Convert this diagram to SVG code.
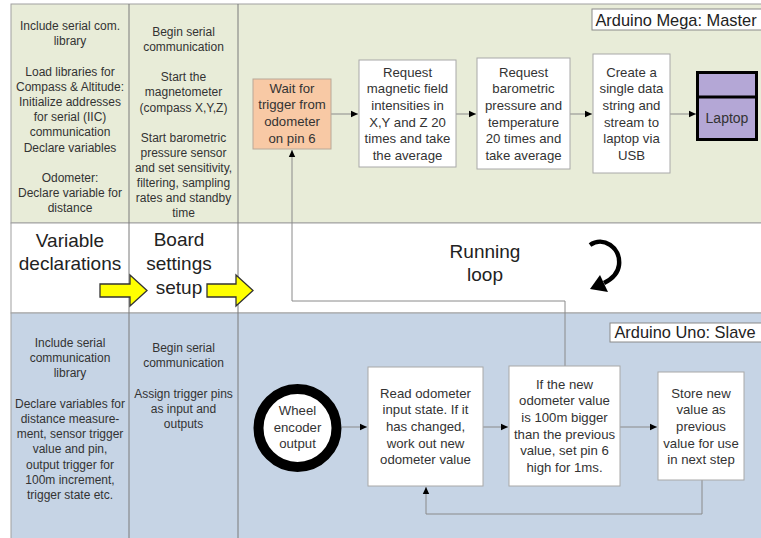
<svg xmlns="http://www.w3.org/2000/svg" width="761" height="538" viewBox="0 0 761 538">
<defs>
<style>
text{font-family:"Liberation Sans",Arial,sans-serif;fill:#333;text-anchor:middle}
.s{font-size:12px}
.b{font-size:13.2px}
.L{font-size:19px;fill:#222}
.t{font-size:16.4px;fill:#222}
.box{fill:#fff;stroke:#a8a8a8;stroke-width:1}
.con{fill:none;stroke:#8a8a8a;stroke-width:1}
.yel{fill:#ffff00;stroke:#333;stroke-width:1.3;stroke-linejoin:miter}
</style>
<marker id="ah" markerWidth="8" markerHeight="8" refX="7" refY="4" orient="auto" markerUnits="userSpaceOnUse">
<path d="M0,0.8 L7,4 L0,7.2 Z" fill="#000"/>
</marker>
</defs>
<rect width="761" height="538" fill="#fff"/>
<g id="panels">
<rect x="11" y="4" width="760" height="219" fill="#e8ecd8" stroke="#a0a0a0"/>
<rect x="11" y="223" width="760" height="90" fill="#fff" stroke="#a0a0a0"/>
<rect x="11" y="313" width="760" height="230" fill="#c6d4e5" stroke="#a0a0a0"/>
<line x1="129" y1="4" x2="129" y2="538" stroke="#7a7a7a"/>
<line x1="238" y1="4" x2="238" y2="538" stroke="#7a7a7a"/>
</g>
<g id="col1-top" class="s">
<text class="s" x="70" y="30">Include serial com.</text>
<text class="s" x="70" y="45.2">library</text>
<text class="s" x="70" y="75.6">Load libraries for</text>
<text class="s" x="70" y="90.8">Compass &amp; Altitude:</text>
<text class="s" x="70" y="106">Initialize addresses</text>
<text class="s" x="70" y="121.2">for serial (IIC)</text>
<text class="s" x="70" y="136.4">communication</text>
<text class="s" x="70" y="151.6">Declare variables</text>
<text class="s" x="70" y="182">Odometer:</text>
<text class="s" x="70" y="197.2">Declare variable for</text>
<text class="s" x="70" y="212.4">distance</text>
</g>
<g id="col2-top">
<text class="s" x="183.5" y="36">Begin serial</text>
<text class="s" x="183.5" y="51.1">communication</text>
<text class="s" x="183.5" y="81.3">Start the</text>
<text class="s" x="183.5" y="96.4">magnetometer</text>
<text class="s" x="183.5" y="111.5">(compass X,Y,Z)</text>
<text class="s" x="183.5" y="141.7">Start barometric</text>
<text class="s" x="183.5" y="156.8">pressure sensor</text>
<text class="s" x="183.5" y="171.9">and set sensitivity,</text>
<text class="s" x="183.5" y="187">filtering, sampling</text>
<text class="s" x="183.5" y="202.1">rates and standby</text>
<text class="s" x="183.5" y="217.2">time</text>
</g>
<g id="col1-bottom">
<text class="s" x="70" y="347">Include serial</text>
<text class="s" x="70" y="362.2">communication</text>
<text class="s" x="70" y="377.4">library</text>
<text class="s" x="70" y="407.8">Declare variables for</text>
<text class="s" x="70" y="423">distance measure-</text>
<text class="s" x="70" y="438.2">ment, sensor trigger</text>
<text class="s" x="70" y="453.4">value and pin,</text>
<text class="s" x="70" y="468.6">output trigger for</text>
<text class="s" x="70" y="483.8">100m increment,</text>
<text class="s" x="70" y="499">trigger state etc.</text>
</g>
<g id="col2-bottom">
<text class="s" x="183.5" y="352">Begin serial</text>
<text class="s" x="183.5" y="367.2">communication</text>
<text class="s" x="183.5" y="397.6">Assign trigger pins</text>
<text class="s" x="183.5" y="412.8">as input and</text>
<text class="s" x="183.5" y="428">outputs</text>
</g>
<g id="band-labels">
<text class="L" x="70" y="247">Variable</text>
<text class="L" x="70" y="270">declarations</text>
<text class="L" x="179" y="246">Board</text>
<text class="L" x="179" y="270">settings</text>
<text class="L" x="179" y="294">setup</text>
<text class="L" x="485" y="258">Running</text>
<text class="L" x="485" y="281">loop</text>
<polygon class="yel" points="100,284 130,284 130,275 147,290.5 130,306 130,297 100,297"/>
<polygon class="yel" points="207,284 236,284 236,275 253,290.5 236,306 236,297 207,297"/>
<path d="M590,245 C603,236 621,247 619,265 C618,274 612,279 604,283" fill="none" stroke="#000" stroke-width="4.5"/>
<polygon points="590,289 600,275 608,292" fill="#000"/>
</g>
<g id="label-master">
<rect x="592" y="9" width="172" height="21" fill="#fff" stroke="#8a8a8a"/>
<text class="t" x="676" y="25.5">Arduino Mega: Master</text>
</g>
<g id="label-slave">
<rect x="610" y="323" width="154" height="19" fill="#fff" stroke="#8a8a8a"/>
<text class="t" x="685" y="338">Arduino Uno: Slave</text>
</g>
<g id="connectors">
<path class="con" d="M331,114 H358" marker-end="url(#ah)"/>
<path class="con" d="M456,114 H476" marker-end="url(#ah)"/>
<path class="con" d="M570,114 H592" marker-end="url(#ah)"/>
<path class="con" d="M670,114 H696" marker-end="url(#ah)"/>
<path class="con" d="M565,366 V301 H292 V150" marker-end="url(#ah)"/>
<path class="con" d="M342,427 H367" marker-end="url(#ah)"/>
<path class="con" d="M483,427 H508" marker-end="url(#ah)"/>
<path class="con" d="M620,427 H657" marker-end="url(#ah)"/>
<path class="con" d="M702,480 V514 H426 V487" marker-end="url(#ah)"/>
</g>
<g id="wait">
<rect x="253" y="79" width="78" height="70" fill="#f8c9a5" stroke="#b8a898"/>
<text class="b" x="292" y="92.5">Wait for</text>
<text class="b" x="292" y="109.2">trigger from</text>
<text class="b" x="292" y="125.9">odometer</text>
<text class="b" x="292" y="142.6">on pin 6</text>
</g>
<g id="magnetic">
<rect class="box" x="359" y="60" width="97" height="107"/>
<text class="b" x="407.5" y="76.5">Request</text>
<text class="b" x="407.5" y="93.2">magnetic field</text>
<text class="b" x="407.5" y="109.9">intensities in</text>
<text class="b" x="407.5" y="126.6">X,Y and Z 20</text>
<text class="b" x="407.5" y="143.3">times and take</text>
<text class="b" x="407.5" y="160">the average</text>
</g>
<g id="barometric">
<rect class="box" x="477" y="58" width="93" height="111"/>
<text class="b" x="523.5" y="76.5">Request</text>
<text class="b" x="523.5" y="93.2">barometric</text>
<text class="b" x="523.5" y="109.9">pressure and</text>
<text class="b" x="523.5" y="126.6">temperature</text>
<text class="b" x="523.5" y="143.3">20 times and</text>
<text class="b" x="523.5" y="160">take average</text>
</g>
<g id="stream">
<rect class="box" x="593" y="54" width="77" height="119"/>
<text class="b" x="631.5" y="76.5">Create a</text>
<text class="b" x="631.5" y="93.2">single data</text>
<text class="b" x="631.5" y="109.9">string and</text>
<text class="b" x="631.5" y="126.6">stream to</text>
<text class="b" x="631.5" y="143.3">laptop via</text>
<text class="b" x="631.5" y="160">USB</text>
</g>
<g id="laptop">
<rect x="697.5" y="72.5" width="59" height="67" fill="#b4a7d6" stroke="#000" stroke-width="3"/>
<line x1="697.5" y1="97" x2="756.5" y2="97" stroke="#000" stroke-width="3"/>
<text x="727" y="122.5" style="font-size:14px">Laptop</text>
</g>
<g id="wheel">
<circle cx="297.5" cy="428" r="39" fill="#fff" stroke="#000" stroke-width="10"/>
<text class="b" x="297.5" y="414.8">Wheel</text>
<text class="b" x="297.5" y="431.5">encoder</text>
<text class="b" x="297.5" y="448.2">output</text>
</g>
<g id="read">
<rect class="box" x="368" y="367" width="115" height="119"/>
<text class="b" x="425.5" y="397.5">Read odometer</text>
<text class="b" x="425.5" y="414.2">input state. If it</text>
<text class="b" x="425.5" y="430.9">has changed,</text>
<text class="b" x="425.5" y="447.6">work out new</text>
<text class="b" x="425.5" y="464.3">odometer value</text>
</g>
<g id="check">
<rect class="box" x="509" y="366" width="111" height="120"/>
<text class="b" x="564.5" y="388.5">If the new</text>
<text class="b" x="564.5" y="405.2">odometer value</text>
<text class="b" x="564.5" y="421.9">is 100m bigger</text>
<text class="b" x="564.5" y="438.6">than the previous</text>
<text class="b" x="564.5" y="455.3">value, set pin 6</text>
<text class="b" x="564.5" y="472">high for 1ms.</text>
</g>
<g id="store">
<rect class="box" x="658" y="372" width="86" height="108"/>
<text class="b" x="701" y="397.5">Store new</text>
<text class="b" x="701" y="414.2">value as</text>
<text class="b" x="701" y="430.9">previous</text>
<text class="b" x="701" y="447.6">value for use</text>
<text class="b" x="701" y="464.3">in next step</text>
</g>
</svg>
